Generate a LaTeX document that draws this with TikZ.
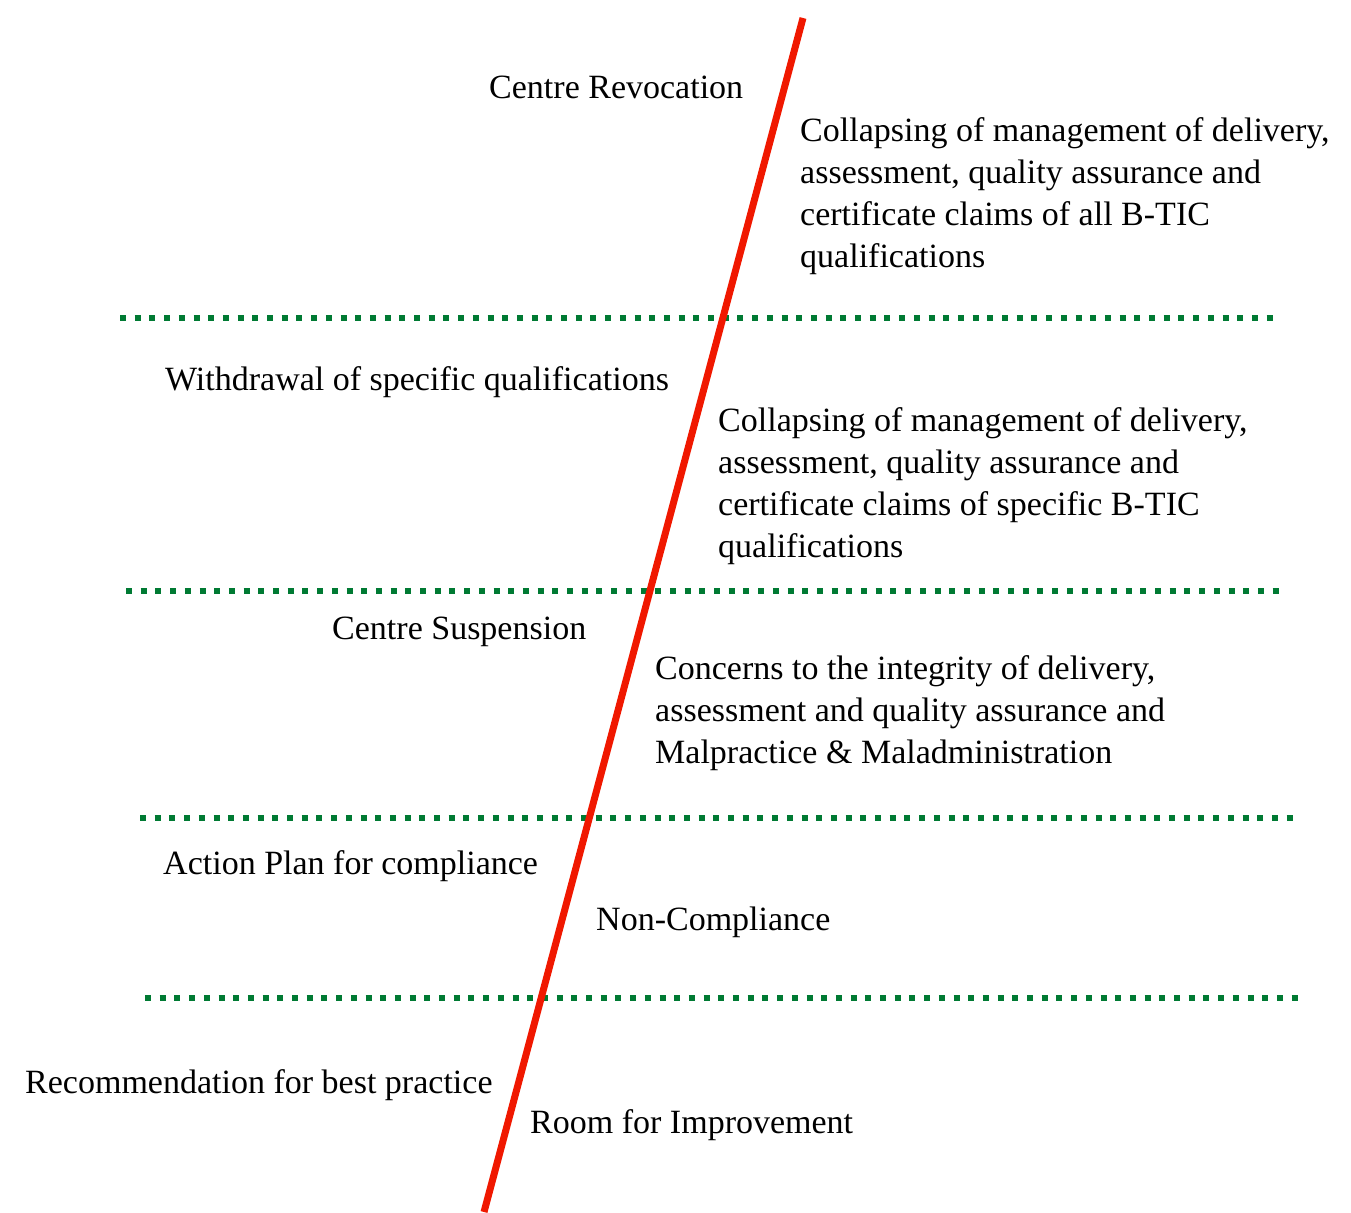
\documentclass[tikz,border=0pt]{standalone}
\usepackage{fontspec}
\setmainfont{Liberation Serif}
\usepackage{xcolor}
\definecolor{alertred}{RGB}{240,24,0}
\definecolor{bandgreen}{RGB}{0,122,51}

\begin{document}
\begin{tikzpicture}[x=1pt, y=-1pt,
  band/.style={bandgreen, line width=6pt, dash pattern=on 6pt off 8.7pt},
  lbl/.style={anchor=base west, inner sep=0pt, align=left, font=\fontsize{34}{42}\selectfont}]
  \useasboundingbox (0,0) rectangle (1351,1212);
  % Level dividers
  \draw[band] (120,318) -- (1280,318);
  \draw[band] (126,591) -- (1286,591);
  \draw[band] (140,818) -- (1300,818);
  \draw[band] (145,998) -- (1305,998);
  % Severity line
  \coordinate (top) at (803,18);
  \coordinate (bot) at (484,1212);
  \draw[alertred, line width=7pt] (top) -- (bot);
  % Sanctions (left) and causes (right); multi-line texts sit on their last line
  \node[lbl] (revoke) at (489,99) {Centre Revocation};
  \node[lbl] (revokewhy) at (800,267) {Collapsing of management of delivery,\\assessment, quality assurance and\\certificate claims of all B-TIC\\qualifications};
  \node[lbl] (withdraw) at (165,390) {Withdrawal of specific qualifications};
  \node[lbl] (withdrawwhy) at (718,557) {Collapsing of management of delivery,\\assessment, quality assurance and\\certificate claims of specific B-TIC\\qualifications};
  \node[lbl] (suspend) at (332,639) {Centre Suspension};
  \node[lbl] (suspendwhy) at (655,763) {Concerns to the integrity of delivery,\\assessment and quality assurance and\\Malpractice \& Maladministration};
  \node[lbl] (plan) at (163,874) {Action Plan for compliance};
  \node[lbl] (planwhy) at (596,930) {Non-Compliance};
  \node[lbl] (advise) at (25,1093) {Recommendation for best practice};
  \node[lbl] (advisewhy) at (530,1133) {Room for Improvement};
\end{tikzpicture}
\end{document}
